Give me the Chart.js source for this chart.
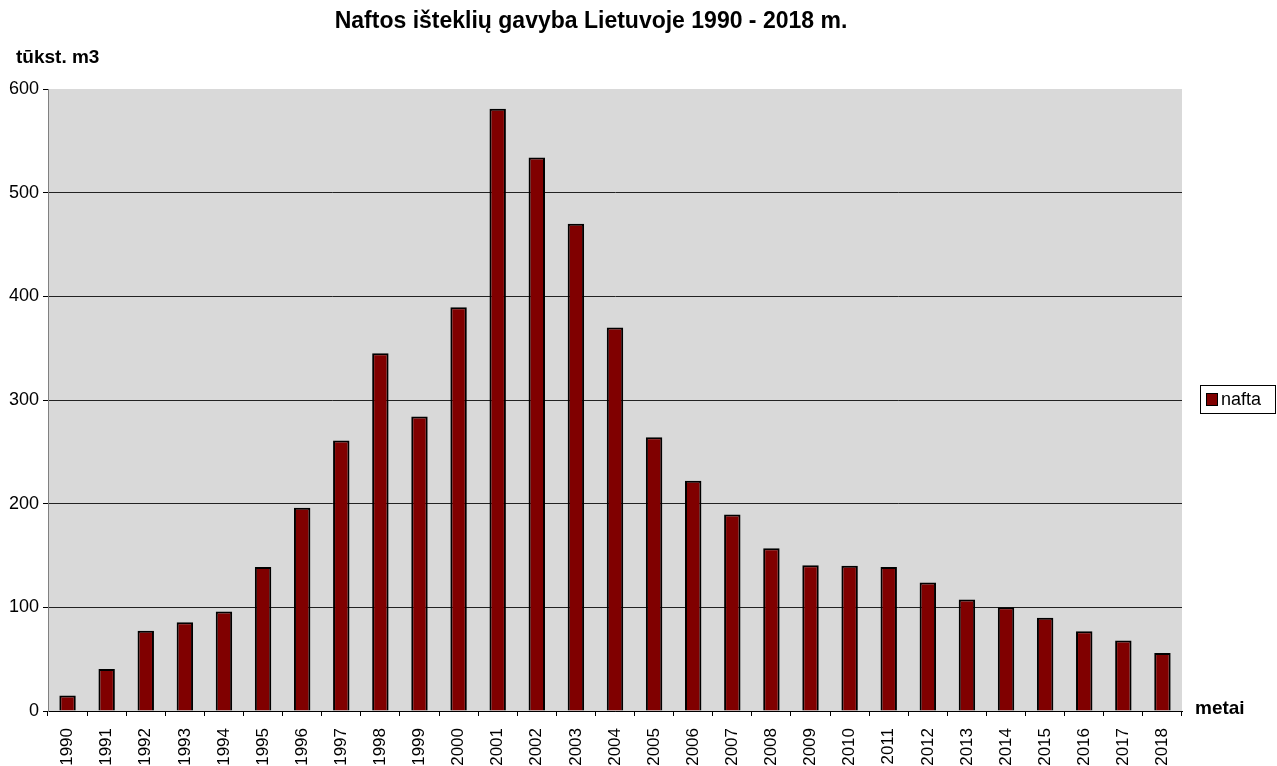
<!DOCTYPE html>
<html>
<head>
<meta charset="utf-8">
<script src="https://cdn.jsdelivr.net/npm/chart.js@4"></script>
<style>
  body { margin: 0; background: #fff; }
</style>
</head>
<body>
<canvas id="myChart" width="1277" height="766"></canvas>
<script>
const years = ["1990", "1991", "1992", "1993", "1994", "1995", "1996", "1997", "1998", "1999",
  "2000", "2001", "2002", "2003", "2004", "2005", "2006", "2007", "2008", "2009",
  "2010", "2011", "2012", "2013", "2014", "2015", "2016", "2017", "2018"];
const nafta = [15, 40.5, 77.5, 85.5, 96, 139, 196, 261, 345, 284,
  389.5, 581, 534, 470, 370, 264, 222, 189.5, 157, 140.5,
  140, 139, 124, 107.5, 100, 90, 77, 68, 56];
const yTicks = [0, 100, 200, 300, 400, 500, 600];

const FONT = "'Liberation Sans', Arial, sans-serif";

// gray plot area + texts + framed legend
const decor = {
  id: "decor",
  beforeDraw(chart) {
    const { ctx, chartArea: a } = chart;
    ctx.save();
    ctx.fillStyle = "#d9d9d9";
    ctx.fillRect(a.left, a.top, a.right - a.left, a.bottom - a.top);
    ctx.restore();
  },
  afterDraw(chart) {
    const ctx = chart.ctx;
    ctx.save();
    ctx.fillStyle = "#000";
    ctx.textBaseline = "middle";
    ctx.font = "bold 23px " + FONT;
    ctx.textAlign = "center";
    ctx.fillText("Naftos išteklių gavyba Lietuvoje 1990 - 2018 m.", 591, 22);
    ctx.textAlign = "left";
    ctx.font = "bold 19px " + FONT;
    ctx.fillText("tūkst. m3", 16, 58);
    ctx.fillText("metai", 1195, 709);

    // legend
    const ds = chart.data.datasets[0];
    ctx.fillStyle = "#fff";
    ctx.fillRect(1200.5, 385.5, 75, 28);
    ctx.strokeStyle = "#000";
    ctx.lineWidth = 1;
    ctx.strokeRect(1200.5, 385.5, 75, 28);
    ctx.fillStyle = ds.backgroundColor;
    ctx.fillRect(1206.5, 393.5, 11, 12);
    ctx.strokeRect(1206.5, 393.5, 11, 12);
    ctx.fillStyle = "#000";
    ctx.font = "18px " + FONT;
    ctx.fillText(ds.label, 1221, 400);
    ctx.restore();
  }
};

const myChart = new Chart("myChart", {
  type: "bar",
  data: {
    labels: years,
    datasets: [
      {
        label: "nafta",
        data: nafta,
        backgroundColor: "#800000",
        borderColor: "#000",
        borderWidth: 2,
        borderSkipped: "bottom",
        categoryPercentage: 1,
        barPercentage: 0.42,
      },
    ],
  },
  options: {
    responsive: false,
    animation: false,
    layout: { padding: { top: 89, right: 95, left: 0, bottom: 0 } },
    plugins: {
      legend: { display: false },
      title: { display: false },
      tooltip: { enabled: false },
    },
    scales: {
      x: {
        offset: true,
        afterFit: (s) => { s.height = 55; },
        border: { color: "#000", width: 1 },
        grid: {
          offset: true,
          drawOnChartArea: false,
          tickLength: 5,
          color: "#000",
        },
        ticks: {
          autoSkip: false,
          minRotation: 90,
          maxRotation: 90,
          color: "#000",
          padding: 12,
          font: { family: FONT, size: 17 },
        },
      },
      y: {
        min: 0,
        max: 600,
        afterFit: (s) => { s.width = 48; },
        afterBuildTicks: (s) => { s.ticks = yTicks.map((v) => ({ value: v })); },
        border: { color: "#808080", width: 1 },
        grid: {
          tickLength: 5,
          tickColor: "#000",
          color: (c) => (c.tick && c.tick.value === 600 ? "rgba(0,0,0,0)" : "#222"),
          lineWidth: 1,
        },
        ticks: {
          color: "#000",
          padding: 4,
          font: { family: FONT, size: 18 },
        },
      },
    },
  },
  plugins: [decor],
});
</script>
</body>
</html>
